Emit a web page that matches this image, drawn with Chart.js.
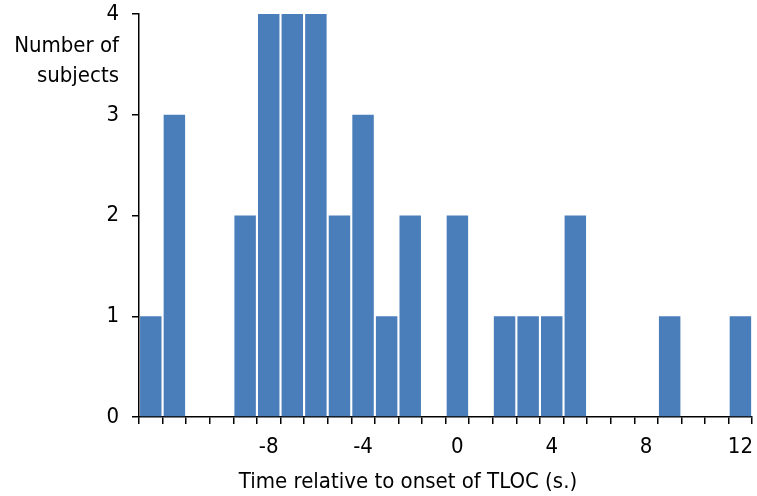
<!DOCTYPE html>
<html><head><meta charset="utf-8">
<script src="https://cdn.jsdelivr.net/npm/chart.js@4"></script>
<style>html,body{margin:0;padding:0;background:#fff}#wrap{width:757px;height:496px}</style>
</head><body><div id="wrap"><canvas id="c" width="757" height="496"></canvas></div>
<script>
const categories = [-13,-12,-11,-10,-9,-8,-7,-6,-5,-4,-3,-2,-1,0,1,2,3,4,5,6,7,8,9,10,11,12];
const counts =     [1,3,0,0,2,4,4,4,2,3,1,2,0,2,0,1,1,1,2,0,0,0,1,0,0,1];
const xTickLabels = ['-8','-4','0','4','8','12'];
const yTicks = [0,1,2,3,4];
const FONT = "'DejaVu Sans Condensed','DejaVu Sans',sans-serif";

const titles = {
  id:'titles',
  afterDraw(chart){
    const ctx = chart.ctx;
    ctx.save();
    ctx.font = "22px " + FONT;
    ctx.fillStyle = '#000';
    ctx.textAlign = 'right';
    ctx.textBaseline = 'middle';
    ctx.fillText('Number of', 119, 46);
    ctx.fillText('subjects', 119, 76);
    ctx.textAlign = 'center';
    ctx.fillText('Time relative to onset of TLOC (s.)', 408, 482);
    ctx.restore();
  }
};

new Chart(document.getElementById('c'), {
  type:'bar',
  data:{labels:categories.map(String), datasets:[{data:counts, backgroundColor:'#4A7EBB', barPercentage:1, categoryPercentage:0.91}]},
  options:{
    responsive:false, animation:false,
    layout:{padding:{top:0,right:0,left:0,bottom:0}},
    plugins:{legend:{display:false}, tooltip:{enabled:false}},
    scales:{
      x:{
        offset:true,
        grid:{offset:true, drawOnChartArea:false, color:'#000', tickLength:7, lineWidth:1.5},
        border:{color:'#000', width:1.5},
        ticks:{autoSkip:false, maxRotation:0, color:'#000', font:{family:FONT,size:22,lineHeight:1.73}, padding:4,
          callback:function(v){const l=this.getLabelForValue(v); return xTickLabels.includes(l)?l:'';}},
        afterFit(s){s.height=79;}
      },
      y:{
        min:0,max:4,
        grid:{drawOnChartArea:false, color:'#000', tickLength:7, lineWidth:1.5},
        border:{color:'#000', width:1.5},
        ticks:{stepSize:1, color:'#000', font:{family:FONT,size:22,lineHeight:0.1}, padding:13,
          callback:(v)=>yTicks.includes(v)?String(v):''},
        afterFit(s){s.width=139;}
      }
    }
  },
  plugins:[titles]
});
</script></body></html>
